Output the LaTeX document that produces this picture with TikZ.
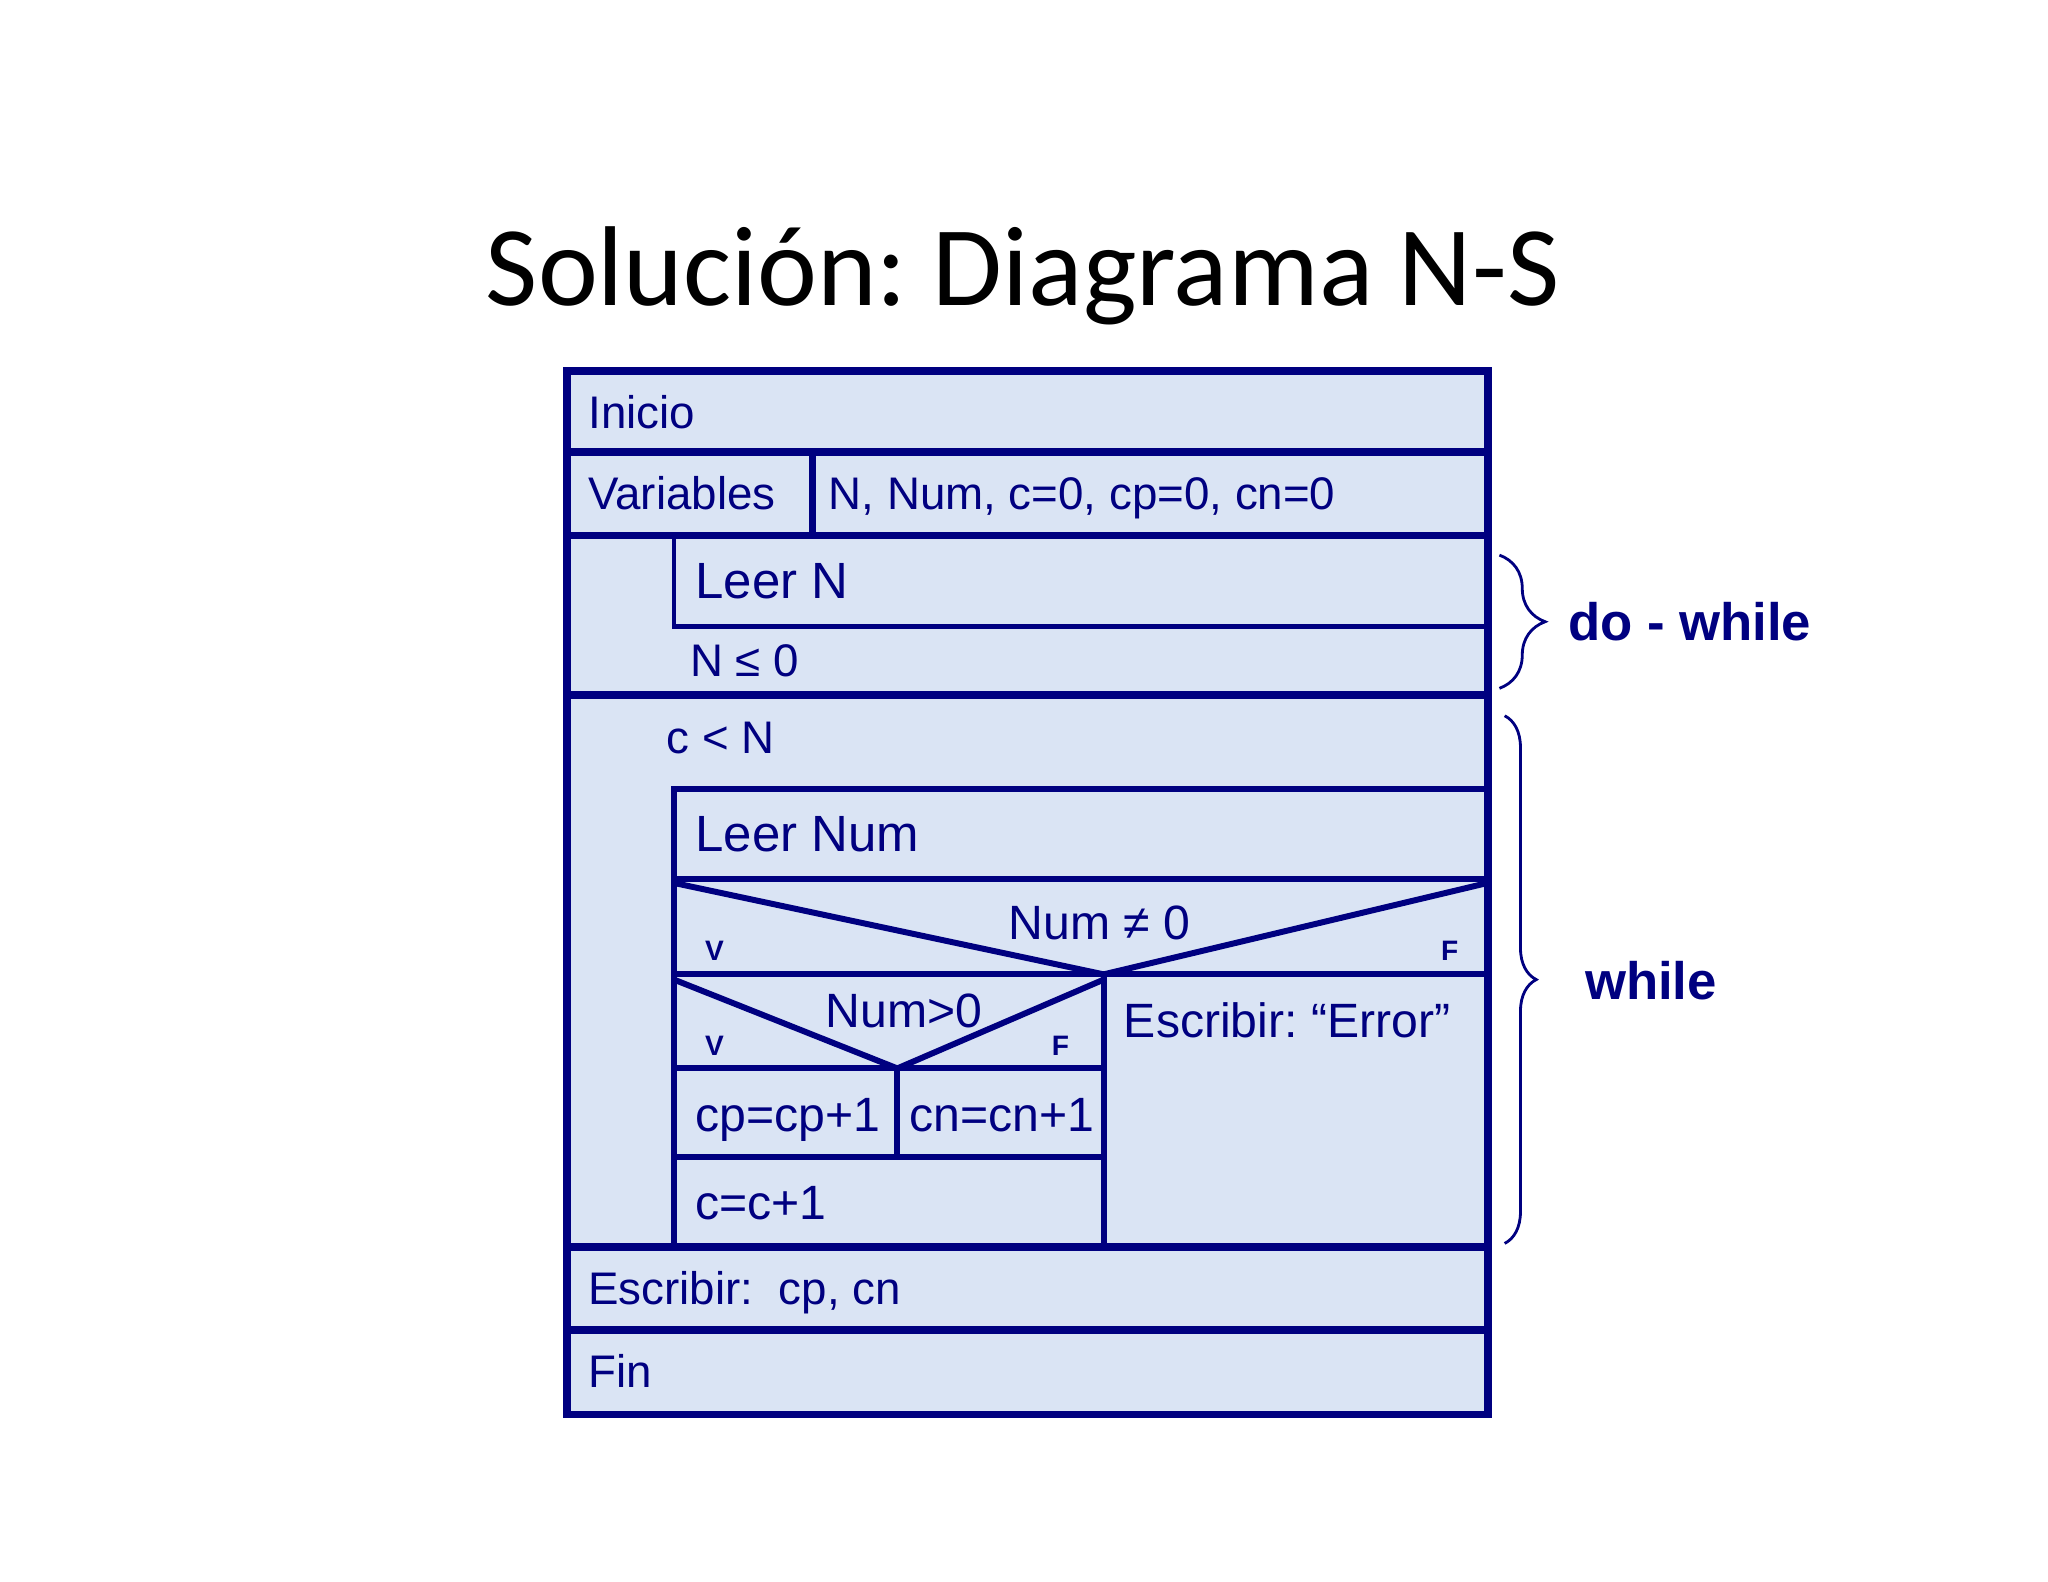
\documentclass[tikz,border=0pt]{standalone}
\usepackage{fontspec}
\setmainfont{Liberation Sans}
\newfontfamily\titlefont{Carlito}
\usetikzlibrary{decorations.pathreplacing}
\definecolor{nsblue}{RGB}{0,0,128}
\definecolor{nsfill}{RGB}{218,228,244}
\frenchspacing

\begin{document}
\begin{tikzpicture}[x=0.013061cm, y=-0.013061cm,
        txt/.style={anchor=base west, inner sep=0pt, text=nsblue, font=\fontsize{13}{15}\selectfont},
        big/.style={txt, font=\fontsize{14.5}{17}\selectfont},
        mid/.style={txt, font=\fontsize{13.7}{16}\selectfont},
        tag/.style={anchor=base, inner sep=0pt, text=nsblue, font=\bfseries\fontsize{8}{9}\selectfont},
        ln/.style={draw=nsblue, line width=1.7pt},
        frame/.style={draw=nsblue, line width=2.2pt},
        brc/.style={draw=nsblue, line width=0.8pt, decorate},
        lbl/.style={anchor=base west, inner sep=0pt, text=nsblue, font=\bfseries\fontsize{15}{18}\selectfont}]

            \useasboundingbox (0,0) rectangle (1568,1211);
            \fill[white] (0,0) rectangle (1568,1211);

            % title
            \node[anchor=base, inner sep=0pt, font=\titlefont\fontsize{32.3}{38}\selectfont] (title) at (783,234) {Solución: Diagrama N-S};

            % background and outer frame
            \fill[nsfill] (434,284) rectangle (1139,1083);
            \draw[frame] (434,284) rectangle (1139,1083);
            \foreach \y in {346,410,532,955,1018} {
                \draw[frame] (434,\y) -- (1139,\y);
            }
            \draw[frame] (622,346) -- (622,410);

            % do-while block
            \draw[ln, line width=1.4pt] (516,410) -- (516,480) -- (1139,480);

            % while block
            \draw[ln] (1139,604) -- (516,604) -- (516,955);
            \draw[ln] (516,673) -- (1139,673);
            \draw[ln] (516,676) -- (845,746) -- (1139,676);
            \draw[ln] (516,746) -- (1139,746);
            \draw[ln] (845,746) -- (845,955);
            \draw[ln] (516,750) -- (687,818) -- (845,750);
            \draw[ln] (516,818) -- (845,818);
            \draw[ln] (687,818) -- (687,886);
            \draw[ln] (516,886) -- (845,886);

            % texts
            \node[txt] (inicio) at (450,328) {Inicio};
            \node[txt] (vars) at (450,390) {Variables};
            \node[txt] (varlist) at (634,390) {N, Num, c=0, cp=0, cn=0};
            \node[big] (leern) at (532,458) {Leer N};
            \node[txt] (cond1) at (528,518) {N ≤ 0};
            \node[txt] (cond2) at (510,577) {c < N};
            \node[big] (leernum) at (532,652) {Leer Num};
            \node[mid, anchor=base] (cond3) at (842,719) {Num ≠ 0};
            \node[tag] (v1) at (547,735) {V};
            \node[tag] (f1) at (1110,735) {F};
            \node[mid, anchor=base] (cond4) at (692,787) {Num>0};
            \node[tag] (v2) at (547,808) {V};
            \node[tag] (f2) at (812,808) {F};
            \node[mid] (err) at (860,794) {Escribir: “Error”};
            \node[mid] (incp) at (532,866) {cp=cp+1};
            \node[mid] (incn) at (696,866) {cn=cn+1};
            \node[mid] (incc) at (532,934) {c=c+1};
            \node[txt] (out) at (450,999) {Escribir:\ \ cp, cn};
            \node[txt] (fin) at (450,1062) {Fin};

            % braces
            \coordinate (dwtop) at (1148,425);
            \coordinate (dwbot) at (1148,527);
            \coordinate (wtop) at (1152,548);
            \coordinate (wbot) at (1152,952);
            \draw[brc, decoration={brace, amplitude=13pt}] (dwtop) -- (dwbot);
            \draw[brc, decoration={brace, amplitude=9pt}] (wtop) -- (wbot);
            \node[lbl] (dowhile) at (1200,490) {do - while};
            \node[lbl] (while) at (1213,765) {while};
        \end{tikzpicture}
\end{document}
